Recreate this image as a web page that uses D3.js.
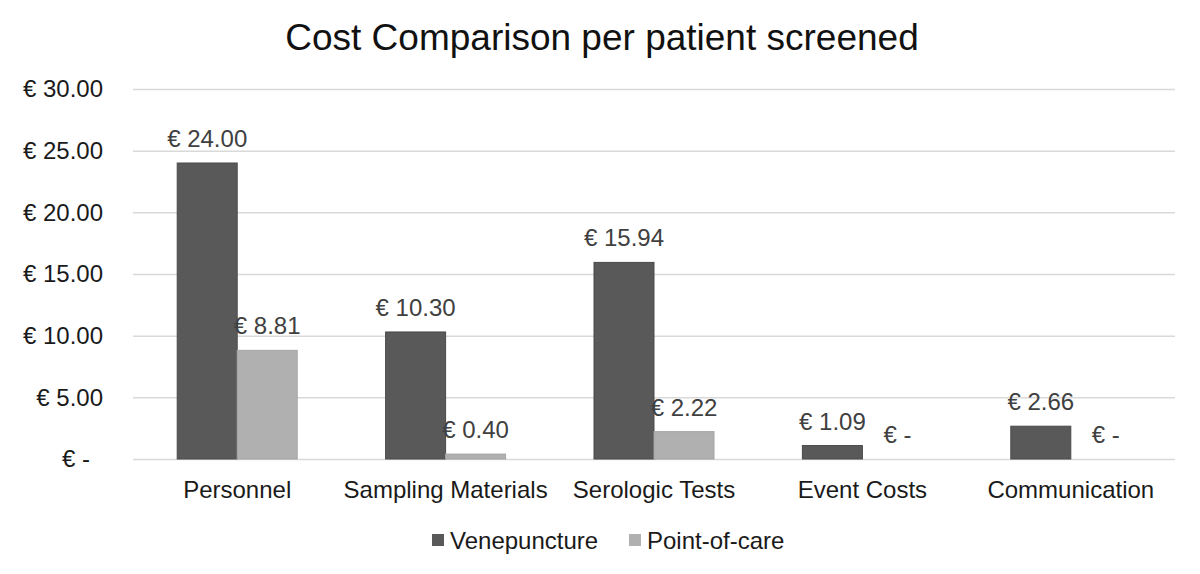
<!DOCTYPE html>
<html>
<head>
<meta charset="utf-8">
<script src="https://cdn.jsdelivr.net/npm/d3@7"></script>
<style>
  body { margin: 0; background: #fff; }
  text { font-family: "Liberation Sans", Arial, sans-serif; }
</style>
</head>
<body>
<div class="chart"></div>
<script>
const categories = ["Personnel", "Sampling Materials", "Serologic Tests", "Event Costs", "Communication"]
const seriesNames = ["Venepuncture", "Point-of-care"]
const venepuncture = [24.00, 10.30, 15.94, 1.09, 2.66]
const pointOfCare = [8.81, 0.40, 2.22, 0, 0]
const yTicks = [0, 5, 10, 15, 20, 25, 30]

const colors = {
  vene: "#595959",
  poc: "#b0b0b0",
  grid: "#d9d9d9",
  label: "#404040",
  text: "#1a1a1a"
}

const dims = {
  width: 1200,
  height: 574,
  margin: { top: 89, right: 25, bottom: 115, left: 133 }
}
dims.boundedWidth = dims.width - dims.margin.left - dims.margin.right
dims.boundedHeight = dims.height - dims.margin.top - dims.margin.bottom

const fmt = v => v === 0 ? "€ -" : `€ ${v.toFixed(2)}`

const rows = categories.map((c, i) => ({
  category: c,
  values: [
    { key: seriesNames[0], value: venepuncture[i] },
    { key: seriesNames[1], value: pointOfCare[i] }
  ]
}))

const xScale = d3.scaleBand()
  .domain(categories)
  .range([0, dims.boundedWidth])

const groupWidth = 120
const xInner = d3.scaleBand()
  .domain(seriesNames)
  .range([(xScale.bandwidth() - groupWidth) / 2, (xScale.bandwidth() + groupWidth) / 2])

const yScale = d3.scaleLinear()
  .domain([0, 30])
  .range([dims.boundedHeight, 0])

const colorScale = d3.scaleOrdinal()
  .domain(seriesNames)
  .range([colors.vene, colors.poc])

const svg = d3.select(".chart")
  .append("svg")
    .attr("width", dims.width)
    .attr("height", dims.height)

svg.append("text")
    .attr("x", 602)
    .attr("y", 50)
    .attr("text-anchor", "middle")
    .style("font-size", "37px")
    .style("fill", "#111")
    .text("Cost Comparison per patient screened")

const bounds = svg.append("g")
    .attr("transform", `translate(${dims.margin.left},${dims.margin.top})`)

// gridlines + y labels (accounting style: the dash sits a bit left)
const yAxis = bounds.append("g")
    .call(d3.axisLeft(yScale)
      .tickValues(yTicks)
      .tickFormat(fmt)
      .tickSize(-dims.boundedWidth)
      .tickPadding(30))
    .call(g => g.select(".domain").remove())
    .call(g => g.selectAll(".tick line").attr("stroke", colors.grid).attr("stroke-width", 1.5))
    .call(g => g.selectAll(".tick text")
        .style("font-size", "24px")
        .style("fill", colors.text)
        .style("font-family", "Liberation Sans, Arial, sans-serif"))
    .call(g => g.selectAll(".tick text")
        .filter(d => d === 0)
        .attr("dx", -13))

const xAxis = bounds.append("g")
    .attr("transform", `translate(0,${dims.boundedHeight})`)
    .call(d3.axisBottom(xScale).tickSize(0).tickPadding(22))
    .call(g => g.select(".domain").remove())
    .call(g => g.selectAll(".tick text")
        .style("font-size", "24px")
        .style("fill", colors.text)
        .style("font-family", "Liberation Sans, Arial, sans-serif"))

const groups = bounds.selectAll(".group")
  .data(rows)
  .join("g")
    .attr("class", "group")
    .attr("transform", d => `translate(${xScale(d.category)},0)`)

groups.selectAll("rect")
  .data(d => d.values)
  .join("rect")
    .attr("x", d => xInner(d.key))
    .attr("width", xInner.bandwidth())
    .attr("y", d => yScale(d.value))
    .attr("height", d => yScale(0) - yScale(d.value))
    .attr("fill", d => colorScale(d.key))
    .attr("stroke", d => d.key == seriesNames[0] ? "#4a4a4a" : "#a5a5a5")
    .attr("stroke-width", d => d.value > 0 ? 1 : 0)

groups.selectAll(".value-label")
  .data(d => d.values)
  .join("text")
    .attr("class", "value-label")
    .attr("x", d => xInner(d.key) + xInner.bandwidth() / 2)
    .attr("dx", d => d.value === 0 ? 5 : 0)
    .attr("y", d => yScale(d.value) - 16)
    .attr("text-anchor", "middle")
    .style("font-size", "24px")
    .style("fill", colors.label)
    .text(d => fmt(d.value))

// legend
const legend = svg.append("g")
    .attr("transform", "translate(0,540)")

const legendItems = legend.selectAll("g")
  .data(seriesNames)
  .join("g")
    .attr("transform", (d, i) => `translate(${[432, 629][i]},0)`)

legendItems.append("rect")
    .attr("x", 0)
    .attr("y", -6)
    .attr("width", 12)
    .attr("height", 12)
    .attr("fill", d => colorScale(d))

legendItems.append("text")
    .attr("x", 18)
    .attr("y", 8.5)
    .style("font-size", "24px")
    .style("fill", colors.text)
    .text(d => d)
</script>
</body>
</html>
